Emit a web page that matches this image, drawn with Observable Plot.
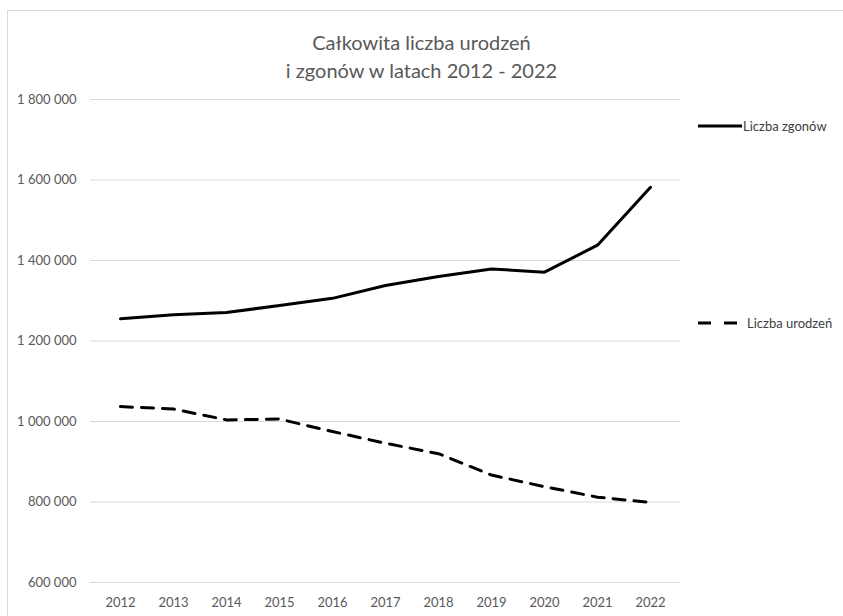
<!DOCTYPE html>
<html><head><meta charset="utf-8">
<script src="https://cdn.jsdelivr.net/npm/d3@7"></script>
<script src="https://cdn.jsdelivr.net/npm/@observablehq/plot@0.6"></script>
<style>
html,body{margin:0;padding:0;background:#fff;overflow:hidden;}
#wrap{position:relative;width:843px;height:616px;overflow:hidden;font-family:Lato,sans-serif;background:#fff;}
#frame{position:absolute;left:7px;top:10px;width:900px;height:700px;border:1px solid #d9d9d9;}
#title{position:absolute;left:0;width:843px;top:28px;text-align:center;font-size:20px;color:#595959;line-height:28px;}
#chart{position:absolute;left:0;top:0;}
#legend{position:absolute;left:0;top:0;}
</style></head>
<body>
<div id="wrap">
  <div id="frame"></div>
  <div id="chart"></div>
  <div id="title">Całkowita liczba urodzeń<br>i zgonów w latach 2012 - 2022</div>
  <svg id="legend" width="843" height="616"></svg>
</div>
<script>
const years = [2012, 2013, 2014, 2015, 2016, 2017, 2018, 2019, 2020, 2021, 2022];
const deaths = [1255000, 1265000, 1271000, 1288000, 1306000, 1338000, 1360000, 1379000, 1371000, 1438000, 1582000];
const births = [1037000, 1031000, 1004000, 1006000, 975000, 946000, 920000, 867000, 838000, 812000, 799000];
const seriesNames = ["Liczba zgonów", "Liczba urodzeń"];
const yTicks = [600000, 800000, 1000000, 1200000, 1400000, 1600000, 1800000];

const table = [
  ...years.map((y, i) => ({year: y, value: deaths[i], series: seriesNames[0]})),
  ...years.map((y, i) => ({year: y, value: births[i], series: seriesNames[1]}))
];

const fmt = d3.formatLocale({decimal: ",", thousands: " ", grouping: [3], currency: ["", ""]}).format(",d");
const dash = "12,9";

const chart = Plot.plot({
  width: 843,
  height: 616,
  marginTop: 99,
  marginBottom: 34,
  marginLeft: 90,
  marginRight: 163,
  style: {fontFamily: "Lato, sans-serif", fontSize: "13px", color: "#595959", background: "transparent"},
  x: {type: "point", domain: years, padding: 0.5},
  y: {domain: [600000, 1800000]},
  marks: [
    Plot.gridY(yTicks, {stroke: "#d9d9d9", strokeOpacity: 1, strokeWidth: 1}),
    Plot.axisY(yTicks, {tickSize: 0, tickPadding: 14, tickFormat: fmt, label: null}),
    Plot.axisX({tickSize: 0, tickPadding: 15, tickFormat: d => String(d), label: null}),
    Plot.line(table.filter(d => d.series === seriesNames[0]), {x: "year", y: "value", stroke: "#000", strokeWidth: 3}),
    Plot.line(table.filter(d => d.series === seriesNames[1]), {x: "year", y: "value", stroke: "#000", strokeWidth: 3, strokeDasharray: dash})
  ]
});
document.getElementById("chart").appendChild(chart);

// legend
const legendRows = [
  {name: seriesNames[0], y: 126, dashed: false},
  {name: seriesNames[1], y: 323, dashed: true}
];
const lg = d3.select("#legend");
legendRows.forEach(r => {
  lg.append("line").attr("x1", 698).attr("x2", r.dashed ? 738 : 742)
    .attr("y1", r.y).attr("y2", r.y)
    .attr("stroke", "#000").attr("stroke-width", 3)
    .attr("stroke-dasharray", r.dashed ? "13,13" : null);
  lg.append("text").attr("x", r.dashed ? 747 : 743).attr("y", r.y).attr("dy", "0.35em")
    .attr("font-family", "Lato, sans-serif").attr("font-size", 13).attr("fill", "#404040")
    .text(r.name);
});
</script>
</body></html>
